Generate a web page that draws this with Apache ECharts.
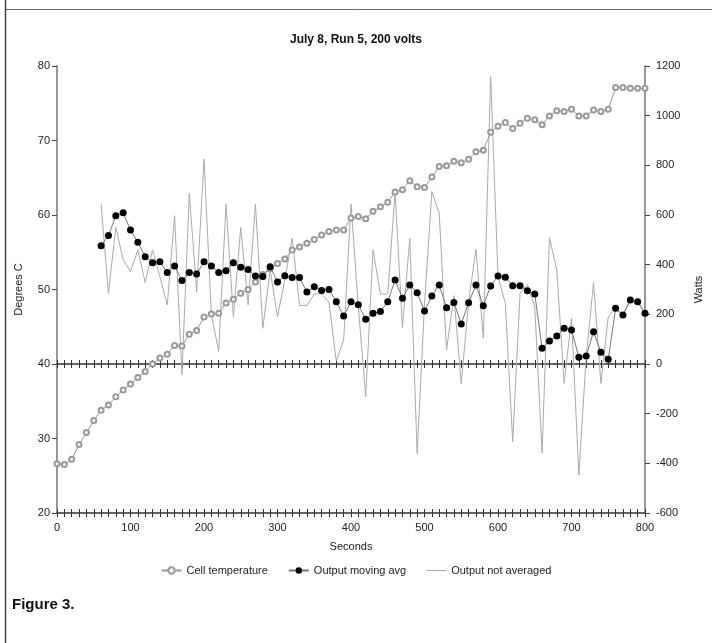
<!DOCTYPE html>
<html>
<head>
<meta charset="utf-8">
<script src="https://cdn.jsdelivr.net/npm/echarts@6/dist/echarts.min.js"></script>
<style>
html,body{margin:0;padding:0;background:#fff;}
#chart{width:712px;height:643px;}
</style>
</head>
<body>
<div id="chart"></div>
<script>
// ---- data ----
const tempSeconds = [0,10,20,30,40,50,60,70,80,90,100,110,120,130,140,150,160,170,180,190,200,210,220,230,240,250,260,270,280,290,300,310,320,330,340,350,360,370,380,390,400,410,420,430,440,450,460,470,480,490,500,510,520,530,540,550,560,570,580,590,600,610,620,630,640,650,660,670,680,690,700,710,720,730,740,750,760,770,780,790,800];
const cellTemperature = [26.6,26.5,27.2,29.2,30.8,32.4,33.8,34.5,35.6,36.5,37.3,38.2,39.0,40.0,40.8,41.3,42.5,42.4,44.0,44.5,46.3,46.7,46.8,48.2,48.7,49.5,50.0,51.0,52.0,52.8,53.5,54.1,55.3,55.7,56.2,56.7,57.3,57.8,58.0,58.0,59.6,59.8,59.5,60.5,61.1,61.7,63.1,63.4,64.6,63.8,63.7,65.1,66.5,66.6,67.2,67.0,67.5,68.5,68.7,71.1,71.9,72.4,71.6,72.3,73.0,72.8,72.1,73.3,74.0,73.9,74.2,73.3,73.3,74.1,73.9,74.2,77.1,77.1,77.0,77.0,77.0];

const outputSeconds = [60,70,80,90,100,110,120,130,140,150,160,170,180,190,200,210,220,230,240,250,260,270,280,290,300,310,320,330,340,350,360,370,380,390,400,410,420,430,440,450,460,470,480,490,500,510,520,530,540,550,560,570,580,590,600,610,620,630,640,650,660,670,680,690,700,710,720,730,740,750,760,770,780,790,800];
const outputMovingAvg = [476,517,597,609,540,490,432,408,412,368,395,336,368,362,412,395,368,376,408,390,381,354,352,392,330,355,348,348,290,311,296,300,251,193,251,239,180,204,211,251,338,265,318,287,213,274,318,227,248,161,247,318,235,314,354,349,315,315,295,282,63,93,113,144,137,27,32,130,47,19,224,197,258,251,204];
const outputNotAveraged = [644,285,550,421,372,459,328,459,352,238,597,-42,687,290,825,200,50,644,190,550,238,644,144,378,190,340,507,236,236,282,282,250,12,97,644,230,-132,460,282,282,692,147,506,-360,240,694,607,56,275,-80,250,462,105,1157,352,244,-313,285,320,230,-358,509,379,-78,184,-447,30,327,-78,190,224,197,258,251,204];

const xTickLabels = ['0','100','200','300','400','500','600','700','800'];

const pair = (xs, ys) => xs.map((x, i) => [x, ys[i]]);

const FONT = 'Liberation Sans, Arial, Helvetica, sans-serif';
const chart = echarts.init(document.getElementById('chart'), null, {renderer: 'canvas'});

const xLabelFmt = v => (xTickLabels.indexOf(String(v)) >= 0 ? String(v) : '');

const baseX = {
  type: 'value', min: 0, max: 800, interval: 10, gridIndex: 0,
  splitLine: {show: false}
};

const option = {
  backgroundColor: '#fff',
  animation: false,
  title: {
    text: 'July 8, Run 5, 200 volts',
    left: 'center', top: 29,
    textStyle: {fontFamily: FONT, fontSize: 12, fontWeight: 'bold', color: '#111'}
  },
  legend: {
    left: 'center', top: 560,
    itemWidth: 20, itemHeight: 8, itemGap: 20,
    textStyle: {fontFamily: FONT, fontSize: 11, color: '#222'},
    data: [
      {name: 'Cell temperature'},
      {name: 'Output moving avg'},
      {name: 'Output not averaged', icon: 'path://M0,0 L20,0 L20,1 L0,1 Z', itemStyle: {color: '#aaaaaa'}}
    ]
  },
  grid: {left: 57, right: 56, top: 66, bottom: 130, containLabel: false},
  xAxis: [
    Object.assign({}, baseX, {
      position: 'bottom',
      name: 'Seconds', nameLocation: 'middle', nameGap: 28,
      nameTextStyle: {fontFamily: FONT, fontSize: 11, color: '#222'},
      axisLine: {onZero: false, lineStyle: {color: '#333', width: 1.5}},
      axisTick: {show: true, inside: false, length: 4, lineStyle: {color: '#333', width: 1}},
      axisLabel: {formatter: xLabelFmt, fontFamily: FONT, fontSize: 11, color: '#222', margin: 9}
    }),
    Object.assign({}, baseX, {
      position: 'bottom',
      axisLine: {show: false, onZero: false},
      axisTick: {show: true, inside: true, length: 4, lineStyle: {color: '#333', width: 1}},
      axisLabel: {show: false}
    }),
    Object.assign({}, baseX, {
      position: 'bottom',
      axisLine: {show: true, onZero: true, onZeroAxisIndex: 1, lineStyle: {color: '#333', width: 1.5}},
      axisTick: {show: true, inside: false, length: 4, lineStyle: {color: '#333', width: 1}},
      axisLabel: {show: false}
    }),
    Object.assign({}, baseX, {
      position: 'bottom',
      axisLine: {show: false, onZero: true, onZeroAxisIndex: 1},
      axisTick: {show: true, inside: true, length: 4, lineStyle: {color: '#333', width: 1}},
      axisLabel: {show: false}
    })
  ],
  yAxis: [
    {
      type: 'value', min: 20, max: 80, interval: 10, position: 'left',
      name: 'Degrees C', nameLocation: 'middle', nameGap: 33, nameRotate: 90,
      nameTextStyle: {fontFamily: FONT, fontSize: 11, color: '#222'},
      axisLine: {show: true, onZero: false, lineStyle: {color: '#999', width: 2}},
      axisTick: {show: true, inside: false, length: 5, lineStyle: {color: '#444'}},
      axisLabel: {fontFamily: FONT, fontSize: 11, color: '#222', margin: 7},
      splitLine: {show: false}
    },
    {
      type: 'value', min: -600, max: 1200, interval: 200, position: 'right',
      name: 'Watts', nameLocation: 'middle', nameGap: 48, nameRotate: 90,
      nameTextStyle: {fontFamily: FONT, fontSize: 11, color: '#222'},
      axisLine: {show: true, onZero: false, lineStyle: {color: '#999', width: 2}},
      axisTick: {show: true, inside: false, length: 5, lineStyle: {color: '#444'}},
      axisLabel: {formatter: v => String(v), fontFamily: FONT, fontSize: 11, color: '#222', margin: 11},
      splitLine: {show: false}
    }
  ],
  series: [
    {
      name: 'Output not averaged', type: 'line', xAxisIndex: 0, yAxisIndex: 1,
      data: pair(outputSeconds, outputNotAveraged),
      symbol: 'none', z: 2,
      lineStyle: {color: '#aaaaaa', width: 1},
      itemStyle: {color: '#aaaaaa'}
    },
    {
      name: 'Cell temperature', type: 'line', xAxisIndex: 0, yAxisIndex: 0,
      data: pair(tempSeconds, cellTemperature),
      symbol: 'emptyCircle', symbolSize: 5, z: 3,
      lineStyle: {color: '#9a9a9a', width: 1},
      itemStyle: {color: '#999', borderColor: '#999', borderWidth: 1}
    },
    {
      name: 'Output moving avg', type: 'line', xAxisIndex: 0, yAxisIndex: 1,
      data: pair(outputSeconds, outputMovingAvg),
      symbol: 'circle', symbolSize: 7, z: 4,
      lineStyle: {color: '#777', width: 1},
      itemStyle: {color: '#000'}
    }
  ],
  graphic: [
    {type: 'line', shape: {x1: 5.5, y1: 0, x2: 5.5, y2: 643}, style: {stroke: '#444', lineWidth: 1.5}},
    {type: 'line', shape: {x1: 5, y1: 9.5, x2: 712, y2: 9.5}, style: {stroke: '#666', lineWidth: 1}},
    {type: 'text', left: 12, top: 597, style: {text: 'Figure 3.', fontFamily: FONT, fontSize: 15, fontWeight: 'bold', fill: '#111'}}
  ]
};
chart.setOption(option);
</script>
</body>
</html>
